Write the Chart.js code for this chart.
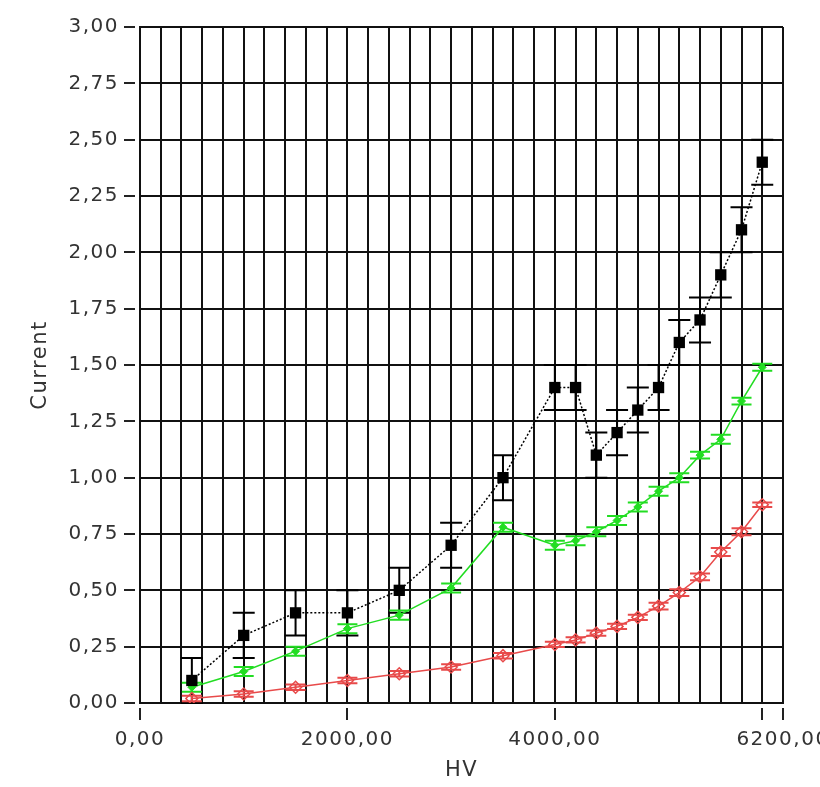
<!DOCTYPE html>
<html>
<head>
<meta charset="utf-8">
<script src="https://cdn.jsdelivr.net/npm/chart.js@4.4.1/dist/chart.umd.min.js"></script>
<style>
  html, body { margin: 0; padding: 0; background: #fff; }
  #wrap { width: 820px; height: 787px; }
</style>
</head>
<body>
<div id="wrap"><canvas id="context"></canvas></div>
<script>
// HV steps and measured current for the three runs
const hv = [500, 1000, 1500, 2000, 2500, 3000, 3500, 4000, 4200, 4400, 4600, 4800, 5000, 5200, 5400, 5600, 5800, 6000];
const black = [0.10, 0.30, 0.40, 0.40, 0.50, 0.70, 1.00, 1.40, 1.40, 1.10, 1.20, 1.30, 1.40, 1.60, 1.70, 1.90, 2.10, 2.40];
const green = [0.07, 0.14, 0.23, 0.33, 0.39, 0.51, 0.78, 0.70, 0.72, 0.76, 0.81, 0.87, 0.94, 1.00, 1.10, 1.17, 1.34, 1.49];
const red = [0.02, 0.04, 0.07, 0.10, 0.13, 0.16, 0.21, 0.26, 0.28, 0.31, 0.34, 0.38, 0.43, 0.49, 0.56, 0.67, 0.76, 0.88];

// +/- error for each point
const blackErr = [0.10, 0.10, 0.10, 0.10, 0.10, 0.10, 0.10, 0.10, 0.10, 0.10, 0.10, 0.10, 0.10, 0.10, 0.10, 0.10, 0.10, 0.10];
const greenErr = [0.02, 0.02, 0.02, 0.02, 0.02, 0.02, 0.02, 0.02, 0.02, 0.02, 0.02, 0.02, 0.02, 0.02, 0.015, 0.02, 0.015, 0.015];
const redErr = [0.012, 0.012, 0.012, 0.012, 0.012, 0.012, 0.012, 0.012, 0.012, 0.012, 0.012, 0.012, 0.015, 0.015, 0.015, 0.018, 0.015, 0.01];

// axis labels / tick marks
const xLabels = [0, 2000, 4000, 6200];
const xTickMarks = [0, 2000, 4000, 6000, 6200];

const greenColor = '#22dd22';
const redColor = '#e84a4a';
const fontFamily = '"DejaVu Sans", sans-serif';

function fmt(v) {
  return v.toFixed(2).replace('.', ',');
}

// slightly wider text spacing for all labels
const spacing = {
  id: 'spacing',
  beforeLayout(chart) { chart.ctx.letterSpacing = '1.5px'; },
  beforeDraw(chart) { chart.ctx.letterSpacing = '1.5px'; }
};

const errorBars = {
  id: 'errorBars',
  beforeDatasetsDraw(chart) {
    const ctx = chart.ctx;
    const x = chart.scales.x, y = chart.scales.y;
    const sets = [[black, blackErr, '#000', 11], [green, greenErr, greenColor, 10], [red, redErr, redColor, 10]];
    ctx.save();
    ctx.lineWidth = 2;
    sets.forEach(([vals, errs, col, half]) => {
      ctx.strokeStyle = col;
      for (let i = 0; i < hv.length; i++) {
        const px = x.getPixelForValue(hv[i]);
        const top = y.getPixelForValue(vals[i] + errs[i]);
        const bot = y.getPixelForValue(Math.max(0, vals[i] - errs[i]));
        ctx.beginPath();
        ctx.moveTo(px, top); ctx.lineTo(px, bot);
        ctx.moveTo(px - half, top); ctx.lineTo(px + half, top);
        ctx.moveTo(px - half, bot); ctx.lineTo(px + half, bot);
        ctx.stroke();
      }
    });
    ctx.restore();
  }
};

// detached tick marks outside the plot frame
const tickMarks = {
  id: 'tickMarks',
  afterDraw(chart) {
    const ctx = chart.ctx;
    const x = chart.scales.x, y = chart.scales.y;
    const area = chart.chartArea;
    ctx.save();
    ctx.strokeStyle = '#222';
    ctx.lineWidth = 2;
    ctx.beginPath();
    y.ticks.forEach(t => {
      const py = Math.round(y.getPixelForValue(t.value));
      ctx.moveTo(area.left - 16, py); ctx.lineTo(area.left - 5, py);
    });
    xTickMarks.forEach(v => {
      const px = Math.round(x.getPixelForValue(v));
      ctx.moveTo(px, area.bottom + 5); ctx.lineTo(px, area.bottom + 17);
    });
    ctx.stroke();
    ctx.restore();
  }
};

const ctx = document.getElementById('context');
new Chart(ctx, {
  type: 'line',
  data: {
    datasets: [{
      data: hv.map((v, i) => ({x: v, y: black[i]})),
      borderColor: '#000',
      borderWidth: 1.5,
      borderDash: [2, 2],
      pointStyle: 'rect',
      pointRadius: 8,
      pointBackgroundColor: '#000',
      pointBorderColor: '#000',
      pointBorderWidth: 0
    }, {
      data: hv.map((v, i) => ({x: v, y: green[i]})),
      borderColor: greenColor,
      borderWidth: 1.5,
      pointStyle: 'rectRot',
      pointRadius: 4,
      pointBackgroundColor: greenColor,
      pointBorderColor: greenColor,
      pointBorderWidth: 1
    }, {
      data: hv.map((v, i) => ({x: v, y: red[i]})),
      borderColor: redColor,
      borderWidth: 1.5,
      pointStyle: 'rectRot',
      pointRadius: 6,
      pointBackgroundColor: 'rgba(255,255,255,0)',
      pointBorderColor: redColor,
      pointBorderWidth: 1.5
    }]
  },
  options: {
    responsive: true,
    maintainAspectRatio: false,
    animation: false,
    layout: { padding: { left: 0, top: 27, right: 37, bottom: 0 } },
    plugins: { legend: { display: false }, tooltip: { enabled: false } },
    scales: {
      x: {
        type: 'linear',
        min: 0,
        max: 6200,
        grid: { color: '#111', lineWidth: 2, drawTicks: false },
        border: { color: '#111', width: 2 },
        ticks: {
          stepSize: 200,
          autoSkip: false,
          maxRotation: 0,
          padding: 25,
          color: '#333',
          font: { family: fontFamily, size: 20 },
          callback: (v) => xLabels.includes(v) ? fmt(v) : ''
        },
        title: {
          display: true,
          text: 'HV',
          color: '#333',
          font: { family: fontFamily, size: 21 },
          padding: { top: 0, bottom: 4 }
        },
        afterFit(scale) {
          scale.height = 84;
          scale.paddingLeft = 0;
          scale.paddingRight = 0;
        }
      },
      y: {
        min: 0,
        max: 3,
        grid: { color: '#111', lineWidth: 2, drawTicks: false },
        border: { color: '#111', width: 2 },
        ticks: {
          stepSize: 0.25,
          padding: 21,
          color: '#333',
          font: { family: fontFamily, size: 20 },
          callback: (v) => fmt(v)
        },
        title: {
          display: true,
          text: 'Current',
          color: '#333',
          font: { family: fontFamily, size: 21 },
          padding: { top: 28, bottom: 0 }
        },
        afterFit(scale) {
          scale.width = 140;
          scale.paddingTop = 0;
          scale.paddingBottom = 0;
        }
      }
    }
  },
  plugins: [spacing, errorBars, tickMarks]
});
</script>
</body>
</html>
